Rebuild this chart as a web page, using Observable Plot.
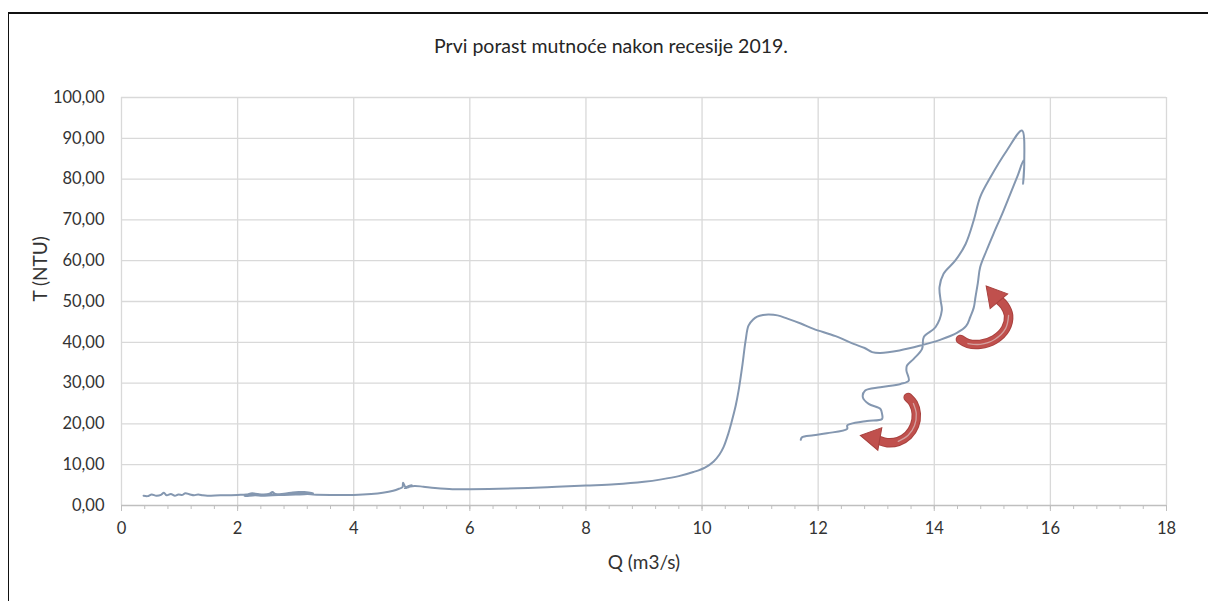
<!DOCTYPE html>
<html>
<head>
<meta charset="utf-8">
<script src="https://cdn.jsdelivr.net/npm/d3@7"></script>
<script src="https://cdn.jsdelivr.net/npm/@observablehq/plot@0.6"></script>
<style>
  html, body { margin: 0; padding: 0; background: #fff; }
  #wrap { position: relative; width: 1208px; height: 601px; overflow: hidden; font-family: Lato, "Open Sans", sans-serif; }
  #frame { position: absolute; left: 8px; top: 12px; width: 1210px; height: 600px; border-left: 1.5px solid #111; border-top: 2px solid #111; box-sizing: border-box; }
  #title { position: absolute; left: 0; width: 1222px; top: 34px; text-align: center; font-size: 19.5px; color: #262626; }
  #chart { position: absolute; left: 0; top: 0; }
</style>
</head>
<body>
<div id="wrap">
  <div id="frame"></div>
  <div id="chart"></div>
  <div id="title">Prvi porast mutnoće nakon recesije 2019.</div>
</div>
<script>
// Discharge Q (m3/s) in time order
const Q = [
  0.38,0.45,0.52,0.6,0.68,0.73,0.78,0.85,0.92,0.98,1.05,1.1,1.18,1.25,1.32,1.4,1.48,1.7,2.0,2.15,
  2.25,2.35,2.45,2.55,2.6,2.65,2.8,2.95,3.05,3.15,3.3,3.2,3.0,2.8,2.6,2.4,2.2,2.12,2.3,2.6,
  2.9,3.1,3.3,3.6,4.0,4.3,4.5,4.68,4.78,4.84,4.85,4.9,5.0,4.88,5.0,4.9,5.05,5.2,5.4,5.7,
  6.0,6.5,7.0,7.5,8.0,8.5,9.0,9.3,9.6,9.85,10.05,10.2,10.3,10.37,10.45,10.5,10.58,10.63,10.69,10.75,
  10.8,10.88,10.95,11.05,11.15,11.3,11.47,11.7,11.92,12.3,12.61,12.8,12.93,13.07,13.4,13.76,14.1,14.39,14.55,14.62,
  14.68,14.71,14.75,14.79,14.9,15.02,15.17,15.31,15.43,15.54,15.53,15.55,15.51,
  15.25,14.97,14.79,14.68,14.54,14.36,14.16,14.09,14.11,14.13,14.02,13.82,13.79,13.65,13.53,13.52,13.56,13.42,13.07,12.81,
  12.77,12.87,13.07,13.1,13.1,12.84,12.56,12.5,12.5,12.15,11.92,11.72,11.7
];
// Turbidity T (NTU) in time order
const T = [
  2.4,2.3,2.7,2.4,2.6,3.1,2.5,2.8,2.4,2.7,2.6,3.0,2.7,2.5,2.7,2.5,2.4,2.5,2.6,2.7,
  3.0,2.8,2.7,2.9,3.3,2.8,2.9,3.2,3.3,3.3,3.0,2.8,2.7,2.6,2.5,2.4,2.6,2.3,2.5,2.7,
  2.8,2.9,2.7,2.6,2.6,2.8,3.1,3.6,4.1,4.5,5.6,4.4,4.8,4.2,5.0,4.5,4.8,4.6,4.3,4.0,
  4.0,4.1,4.3,4.6,4.9,5.2,5.8,6.4,7.2,8.2,9.3,10.8,12.5,14.3,17.5,20.0,24.5,28.2,33.9,40.4,
  44.1,45.6,46.3,46.7,46.8,46.6,45.8,44.6,43.3,41.5,39.6,38.6,37.6,37.4,38.0,39.2,40.6,42.3,44.0,46.2,
  48.5,51.1,54.5,58.4,62.5,66.6,71.5,76.4,80.6,84.6,78.8,84.0,91.9,
  87.0,80.5,75.6,69.9,64.1,60.0,56.8,53.5,50.2,47.8,43.7,41.3,38.4,36.0,34.3,33.1,30.6,29.8,29.0,28.2,
  26.5,24.9,23.7,22.5,21.2,20.7,20.0,19.6,18.8,17.7,17.2,16.7,16.1
];

// Hysteresis arrow annotations: curved bodies (data units) and heads
const arrowUpQ = [14.45, 14.58, 14.79, 15.04, 15.23, 15.28, 15.21, 15.12];
const arrowUpT = [40.7, 39.7, 39.5, 40.7, 43.4, 46.6, 49.0, 50.3];
const arrowDownQ = [13.55, 13.64, 13.69, 13.66, 13.55, 13.38, 13.19, 13.06];
const arrowDownT = [26.5, 25.0, 22.5, 19.6, 17.2, 15.7, 15.4, 15.9];
const headQ = [15.04, 12.95];
const headT = [51.3, 16.6];
const headAngle = [-40, -80];

const xMajor = d3.range(0, 19, 2);
const xMinor = d3.range(0, 46).map(i => i * 0.4);
const yTicks = d3.range(0, 101, 10);
const xTitle = "Q (m3/s)";
const yTitle = "T (NTU)";

const series = Q.map((q, i) => ({Q: q, T: T[i]}));
const bodies = [
  ...arrowUpQ.map((q, i) => ({id: "up", Q: q, T: arrowUpT[i], i})),
  ...arrowDownQ.map((q, i) => ({id: "down", Q: q, T: arrowDownT[i], i}))
];
const heads = headQ.map((q, i) => ({Q: q, T: headT[i], a: headAngle[i]}));
const fmt = d => d.toFixed(2).replace(".", ",");
const red = "#C0504D";

const chart = Plot.plot({
  width: 1208,
  height: 601,
  marginLeft: 121,
  marginRight: 42,
  marginTop: 97,
  marginBottom: 96,
  style: {fontFamily: "Lato, 'Open Sans', sans-serif", fontSize: "16.5px", color: "#333", background: "transparent"},
  x: {domain: [0, 18]},
  y: {domain: [0, 100]},
  marks: [
    Plot.gridX(xMajor, {stroke: "#d9d9d9", strokeOpacity: 1, strokeWidth: 1.3}),
    Plot.gridY(yTicks.filter(d => d > 0), {stroke: "#d9d9d9", strokeOpacity: 1, strokeWidth: 1.3}),
    Plot.axisX(xMinor, {tickSize: 4, tickFormat: () => "", stroke: "#bfbfbf", label: null}),
    Plot.axisX(xMajor, {tickSize: 6, tickPadding: 11, stroke: "#bfbfbf", fill: "#333", label: null}),
    Plot.ruleY([0], {stroke: "#bfbfbf", strokeWidth: 1.3}),
    Plot.axisY(yTicks, {tickSize: 0, tickPadding: 17, tickFormat: fmt, fill: "#333", label: null}),
    Plot.text([xTitle], {frameAnchor: "bottom", dy: 63, fontSize: 19, fill: "#333"}),
    Plot.text([yTitle], {frameAnchor: "left", dx: -81, rotate: -90, fontSize: 19, fill: "#333"}),
    Plot.line(series, {x: "Q", y: "T", stroke: "#8497B0", strokeWidth: 2, curve: "catmull-rom"}),
    // arrows
    Plot.line(bodies, {x: "Q", y: "T", z: "id", stroke: "#a8413e", strokeWidth: 9.5, curve: "catmull-rom"}),
    Plot.line(bodies, {x: "Q", y: "T", z: "id", stroke: red, strokeWidth: 7.5, curve: "catmull-rom"}),
    Plot.line(bodies.filter(d => d.i >= 1 && d.i <= 5), {x: "Q", y: "T", z: "id", stroke: "#e4e4e4", strokeOpacity: 0.55, strokeWidth: 1.3, curve: "catmull-rom"}),
    Plot.dot(heads, {x: "Q", y: "T", symbol: "triangle", r: 8.5, rotate: "a", fill: red, stroke: "#a8413e", strokeWidth: 1})
  ]
});
document.getElementById("chart").appendChild(chart);
</script>
</body>
</html>
